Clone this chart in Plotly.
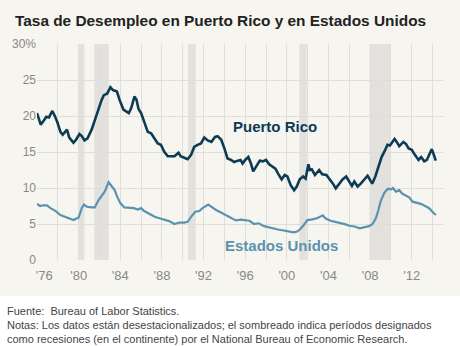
import plotly.graph_objects as go

# Unemployment rate (%), Puerto Rico — decimal year / value
pr_year = [
    1976.00, 1976.36, 1976.67, 1976.90, 1977.15, 1977.46, 1977.68, 1977.94,
    1978.25, 1978.47, 1978.88, 1979.10, 1979.50, 1979.75, 1980.08, 1980.30,
    1980.56, 1980.85, 1981.25, 1981.57, 1981.90, 1982.20, 1982.42, 1982.74,
    1983.05, 1983.30, 1983.68, 1983.94, 1984.30, 1984.63, 1984.82, 1985.05,
    1985.36, 1985.55, 1985.75, 1986.00, 1986.30, 1986.64, 1986.96, 1987.28,
    1987.60, 1987.90, 1988.24, 1988.56, 1988.90, 1989.20, 1989.60, 1989.80,
    1990.15, 1990.47, 1990.80, 1991.10, 1991.43, 1991.75, 1992.07, 1992.40,
    1992.75, 1993.10, 1993.35, 1993.70, 1994.00, 1994.30, 1994.63, 1994.95,
    1995.30, 1995.55, 1995.75, 1996.00, 1996.30, 1996.55, 1996.77, 1997.10,
    1997.40, 1997.70, 1998.00, 1998.30, 1998.60, 1998.90, 1999.20, 1999.50,
    1999.80, 2000.05, 2000.37, 2000.70, 2000.95, 2001.24, 2001.56, 2001.80,
    2002.07, 2002.20, 2002.40, 2002.70, 2003.10, 2003.40, 2003.80, 2004.10,
    2004.43, 2004.70, 2005.00, 2005.35, 2005.70, 2006.00, 2006.25, 2006.48,
    2006.80, 2007.10, 2007.40, 2007.76, 2008.00, 2008.20, 2008.50, 2008.80,
    2009.10, 2009.45, 2009.67, 2009.90, 2010.15, 2010.35, 2010.55, 2010.80,
    2011.20, 2011.45, 2011.70, 2012.00, 2012.30, 2012.65, 2012.90, 2013.20,
    2013.45, 2013.67, 2013.92, 2014.10, 2014.30,
]
pr_rate = [
    20.4, 18.8, 19.4, 19.9, 19.8, 20.7, 20.1, 19.2,
    17.8, 17.4, 18.1, 17.0, 16.3, 16.7, 17.5, 17.2,
    16.6, 16.9, 18.1, 19.5, 21.1, 22.2, 22.9, 23.1,
    24.0, 23.6, 23.4, 22.2, 20.9, 20.6, 20.4, 21.1,
    22.7, 22.3, 21.0, 20.4, 19.1, 17.8, 17.6, 16.9,
    16.2, 16.0, 15.0, 14.4, 14.35, 14.4, 14.9, 14.4,
    14.2, 14.0, 14.6, 15.7, 16.0, 16.2, 17.0, 16.6,
    16.4, 17.1, 17.2, 16.7, 15.5, 14.1, 13.9, 13.6,
    13.8, 13.9, 13.4, 13.9, 14.3, 13.4, 12.3, 13.1,
    13.8, 13.7, 13.9, 13.3, 12.95, 12.7, 11.9, 11.2,
    11.8, 11.6, 10.4, 9.7, 10.2, 11.2, 11.6, 11.3,
    13.3, 12.5, 12.6, 11.8, 12.5, 11.9, 11.8, 11.3,
    10.6, 9.95, 10.5, 11.2, 11.6, 10.9, 10.3, 10.9,
    10.2, 10.6, 11.1, 11.7, 11.1, 10.6, 11.6, 12.9,
    14.3, 15.3, 16.0, 15.9, 16.4, 16.8, 16.4, 15.8,
    16.4, 16.1, 15.5, 15.3, 14.6, 13.9, 14.3, 13.7,
    13.9, 14.6, 15.4, 14.7, 13.8,
]

# Unemployment rate (%), United States
us_year = [
    1976.00, 1976.30, 1976.60, 1976.95, 1977.30, 1977.80, 1978.25, 1978.70,
    1979.20, 1979.50, 1980.00, 1980.30, 1980.50, 1980.80, 1981.25, 1981.55,
    1981.90, 1982.20, 1982.50, 1982.88, 1983.15, 1983.46, 1983.70, 1984.00,
    1984.40, 1984.85, 1985.30, 1985.70, 1986.00, 1986.30, 1986.80, 1987.30,
    1987.76, 1988.24, 1988.70, 1989.20, 1989.67, 1990.15, 1990.47, 1990.80,
    1991.20, 1991.60, 1991.90, 1992.45, 1992.80, 1993.20, 1993.67, 1994.15,
    1994.63, 1995.10, 1995.60, 1996.00, 1996.40, 1996.86, 1997.30, 1997.80,
    1998.30, 1998.80, 1999.25, 1999.70, 2000.20, 2000.65, 2001.00, 2001.30,
    2001.65, 2001.97, 2002.45, 2002.90, 2003.45, 2003.70, 2004.20, 2004.70,
    2005.20, 2005.65, 2006.00, 2006.50, 2007.00, 2007.44, 2007.90, 2008.24,
    2008.55, 2008.80, 2009.00, 2009.35, 2009.70, 2010.00, 2010.20, 2010.47,
    2010.80, 2011.10, 2011.43, 2011.75, 2012.07, 2012.45, 2012.87, 2013.28,
    2013.67, 2014.05, 2014.32,
]
us_rate = [
    7.8, 7.5, 7.6, 7.6, 7.2, 6.8, 6.25, 6.0,
    5.8, 5.55, 5.9, 7.2, 7.7, 7.4, 7.3, 7.3,
    8.3, 8.9, 9.5, 10.8, 10.3, 9.7, 8.8, 7.9,
    7.3, 7.3, 7.2, 7.0, 7.2, 6.8, 6.4, 6.0,
    5.8, 5.55, 5.4, 5.0, 5.2, 5.2, 5.3, 6.0,
    6.7, 6.8, 7.2, 7.7, 7.3, 6.95, 6.6, 6.25,
    5.8, 5.5, 5.6, 5.5, 5.45, 5.0, 5.1, 4.7,
    4.5, 4.4, 4.2, 4.1, 3.95, 3.85, 3.95, 4.3,
    4.9, 5.55, 5.65, 5.8, 6.2, 5.8, 5.45, 5.3,
    5.1, 4.95, 4.75, 4.65, 4.4, 4.6, 4.7, 5.0,
    5.8, 6.95, 8.1, 9.3, 9.9, 9.8, 10.0, 9.5,
    9.7, 9.2, 9.0, 8.7, 8.1, 8.0, 7.8, 7.5,
    7.2, 6.6, 6.25,
]

# Recession periods (start, end) shaded in the background
recessions = [
    (1980.0, 1980.55),
    (1981.5, 1982.9),
    (1990.5, 1991.25),
    (2001.2, 2001.9),
    (2007.95, 2009.95),
]

x_ticks = [1976, 1980, 1984, 1988, 1992, 1996, 2000, 2004, 2008, 2012]
x_labels = ["\u00a0\u00a0\u00a0\u00a0'76", "'80", "'84", "'88", "'92", "'96",
            "'00", "'04", "'08", "'12"]
y_ticks = [0, 5, 10, 15, 20, 25, 30]
y_labels = ["0", "5", "10", "15", "20", "25", "30%"]

FONT = "Liberation Sans, Arial, Helvetica, sans-serif"
BG = "#f6f5f0"
GRID = "#dfded9"
SHADE = "#e2e1dd"
PR_COLOR = "#0d3b53"
US_COLOR = "#5b93ae"

fig = go.Figure()
fig.add_trace(go.Scatter(x=pr_year, y=pr_rate, mode="lines",
                         line=dict(color=PR_COLOR, width=2.6),
                         name="Puerto Rico", hoverinfo="x+y"))
fig.add_trace(go.Scatter(x=us_year, y=us_rate, mode="lines",
                         line=dict(color=US_COLOR, width=2.2),
                         name="Estados Unidos", hoverinfo="x+y"))

shapes = []
for start, end in recessions:
    shapes.append(dict(type="rect", xref="x", yref="paper", x0=start, x1=end,
                       y0=0, y1=1, fillcolor=SHADE, line=dict(width=0),
                       layer="below"))
# white band behind the footnotes
shapes.append(dict(type="rect", xref="paper", yref="paper", x0=-0.2, x1=1.2,
                   y0=-0.6, y1=-0.167, fillcolor="white", line=dict(width=0),
                   layer="below"))

annotations = [
    dict(text="<b>Puerto Rico</b>", x=1998.85, y=18.5, xref="x", yref="y",
         showarrow=False, font=dict(family=FONT, size=15, color=PR_COLOR)),
    dict(text="<b>Estados Unidos</b>", x=1999.5, y=2.0, xref="x", yref="y",
         showarrow=False, font=dict(family=FONT, size=15, color=US_COLOR)),
]
footer = [
    "Fuente:\u00a0 Bureau of Labor Statistics.",
    "Notas: Los datos están desestacionalizados; el sombreado indica períodos designados",
    "como recesiones (en el continente) por el National Bureau of Economic Research.",
]
for i, line in enumerate(footer):
    annotations.append(dict(text=line, xref="paper", yref="paper",
                            x=-0.079, y=-0.236 - i * 0.064,
                            xanchor="left", yanchor="middle", showarrow=False,
                            font=dict(family=FONT, size=11, color="#444444")))

fig.update_layout(
    width=460, height=346,
    margin=dict(l=37, r=17, t=44, b=86),
    paper_bgcolor=BG, plot_bgcolor=BG,
    showlegend=False,
    font=dict(family=FONT),
    title=dict(text="<b>Tasa de Desempleo en Puerto Rico y en Estados Unidos</b>",
               xref="container", yref="container", x=15 / 460, y=1 - 21 / 346,
               xanchor="left", yanchor="middle",
               font=dict(family=FONT, size=15.4, color="#222222")),
    shapes=shapes,
    annotations=annotations,
    xaxis=dict(range=[1976, 2015], tickmode="array", tickvals=x_ticks,
               ticktext=x_labels, showgrid=True, gridcolor=GRID, gridwidth=1,
               zeroline=False, showline=False, ticks="",
               ticklabelstandoff=6,
               tickfont=dict(family=FONT, size=13, color="#888888"),
               minor=dict(tick0=1976, dtick=2, showgrid=True, gridcolor=GRID,
                          gridwidth=1)),
    yaxis=dict(range=[0, 30], tickmode="array", tickvals=y_ticks,
               ticktext=y_labels, showgrid=True, gridcolor=GRID, gridwidth=1,
               zeroline=False, showline=False, ticks="",
               tickfont=dict(family=FONT, size=12, color="#888888")),
)

fig.write_html("out.html")
